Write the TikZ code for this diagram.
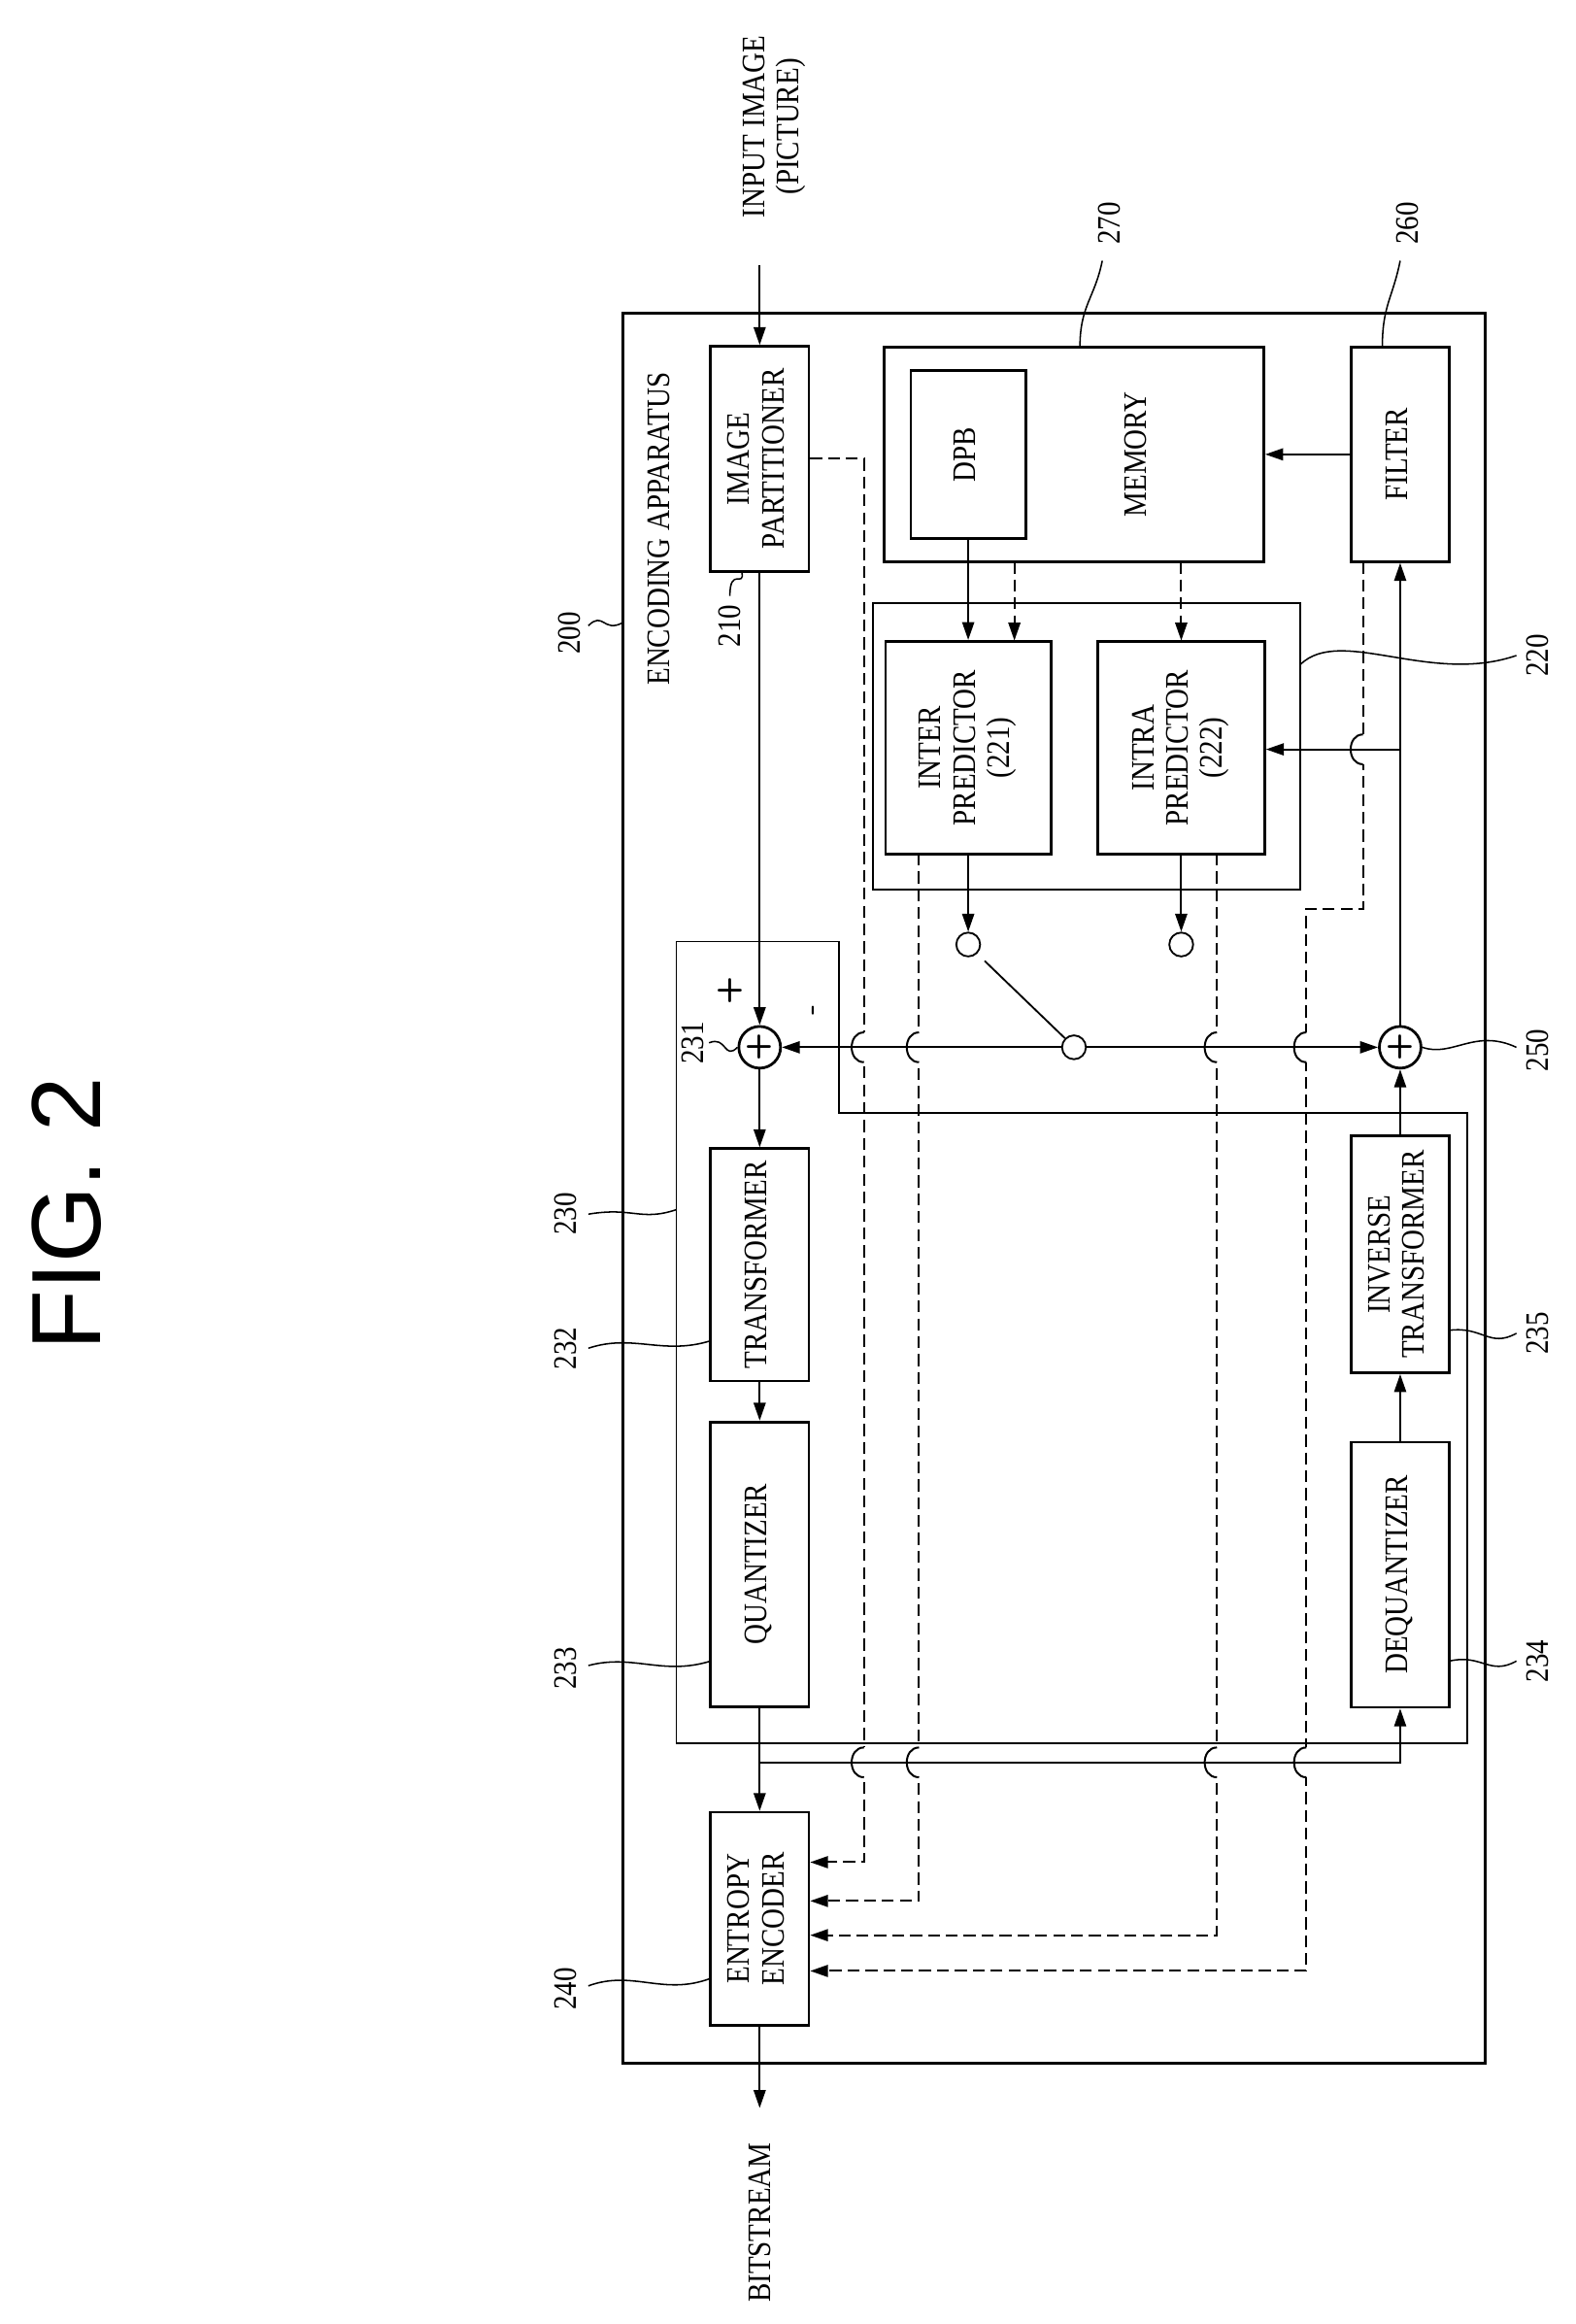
\documentclass[tikz,border=0pt]{standalone}
\usepackage{fontspec}
\setmainfont{Liberation Serif}[FakeStretch=0.86]
\usetikzlibrary{arrows.meta}
\tikzset{
  blk/.style = {draw, line width=1.8pt, inner sep=0pt, font=\fontsize{22}{23}\selectfont},
  grp/.style = {draw, line width=1.2pt},
  sig/.style = {line width=1.3pt, -{Triangle[length=12pt,width=8pt]}},
  dsh/.style = {line width=1.3pt, dash pattern=on 8pt off 4pt},
  dshar/.style = {dsh, -{Triangle[length=12pt,width=8pt]}},
  sum/.style = {draw, circle, line width=1.8pt, minimum size=28pt, inner sep=0pt, font=\fontsize{22}{22}\bfseries\sffamily},
  tap/.style = {draw, circle, line width=1.2pt, minimum size=16pt, inner sep=0pt},
  refno/.style = {font=\fontsize{22}{23}\selectfont, rotate=90},
  squig/.style = {line width=1pt}
}
\newcommand{\vtext}[1]{\rotatebox{90}{\begin{tabular}{@{}c@{}}#1\end{tabular}}}
% hop of a dashed line over a solid one
\newcommand{\hop}[2]{%
  \fill[white] (#1-3,#2-10) rectangle (#1+3,#2+10);
  \draw[line width=1.3pt] (#1,#2-10) .. controls (#1-11,#2-10) and (#1-11,#2+10) .. (#1,#2+10);}

\begin{document}
\begin{tikzpicture}[x=1pt,y=-1pt]
\useasboundingbox (0,0) rectangle (1058,1560);

\node[rotate=90] (fig) at (45,815) {\fontsize{66}{66}\fontspec{Liberation Sans}FIG. 2};

% outer apparatus
\draw[line width=1.8pt] (418,210) rectangle (997,1385);
\node[font=\fontsize{22}{23}\selectfont, rotate=90] (encap) at (442,355) {ENCODING APPARATUS};

% groups
\draw[grp] (586,405) rectangle (873,597);
\draw[grp] (454,632) -- (563,632) -- (563,747) -- (985,747) -- (985,1170) -- (454,1170) -- cycle;

% blocks
\node[blk, minimum width=66pt, minimum height=151pt] (ip) at (510,308) {\vtext{IMAGE\\PARTITIONER}};
\node[blk, minimum width=255pt, minimum height=144pt] (mem) at (721,305) {};
\node[blk, minimum width=77pt, minimum height=113pt] (dpb) at (650,305) {\vtext{DPB}};
\node[font=\fontsize{22}{23}\selectfont] (memt) at (765,305) {\vtext{MEMORY}};
\node[blk, minimum width=66pt, minimum height=144pt] (filt) at (940,305) {\vtext{FILTER}};
\node[blk, minimum width=111pt, minimum height=143pt] (inter) at (650,502) {\vtext{INTER\\PREDICTOR\\(221)}};
\node[blk, minimum width=112pt, minimum height=143pt] (intra) at (793,502) {\vtext{INTRA\\PREDICTOR\\(222)}};
\node[blk, minimum width=66pt, minimum height=156pt] (tr) at (510,849) {\vtext{TRANSFORMER}};
\node[blk, minimum width=66pt, minimum height=191pt] (qu) at (510,1050) {\vtext{QUANTIZER}};
\node[blk, minimum width=66pt, minimum height=143pt] (ent) at (510,1288) {\vtext{ENTROPY\\ENCODER}};
\node[blk, minimum width=66pt, minimum height=178pt] (dq) at (940,1057) {\vtext{DEQUANTIZER}};
\node[blk, minimum width=66pt, minimum height=159pt] (itr) at (940,842) {\vtext{INVERSE\\TRANSFORMER}};

\node[sum] (add1) at (510,703) {+};
\node[sum] (add2) at (940,703) {+};
\node[tap] (tint) at (650,634) {};
\node[tap] (tintra) at (793,634) {};
\node[tap] (piv) at (721,703) {};
\node[font=\fontsize{22}{22}\bfseries\sffamily] (plus) at (490,665) {+};
\node[font=\fontsize{20}{20}\bfseries\sffamily, rotate=90] (minus) at (548,678) {-};

% external
\coordinate (in) at (510,178);
\coordinate (out) at (510,1415);
\node[font=\fontsize{22}{23}\selectfont] (intext) at (520,85) {\vtext{INPUT IMAGE\\(PICTURE)}};
\node[refno] (bits) at (510,1492) {BITSTREAM};
\draw[sig] (in) -- (ip.north);
\draw[sig] (ent.south) -- (out);

% dashed side information
\draw[dshar] (ip.east |- 0,308) -| (580,1250) -- (ent.east |- 0,1250);
\draw[dshar] (617,573) -- (617,1276) -- (ent.east |- 0,1276);
\draw[dshar] (817,573) -- (817,1299) -- (ent.east |- 0,1299);
\draw[dshar] (915,377) -- (915,610) -- (877,610) -- (877,1323) -- (ent.east |- 0,1323);
\draw[dshar] (681,377) -- (681,430);
\draw[dshar] (793,377) -- (793,430);

% hops
\foreach \xx in {580,617,817,877} {\hop{\xx}{703} \hop{\xx}{1183}}
\hop{915}{503}

% solid paths
\draw[sig] (dpb.south) -- (inter.north -| dpb.south);
\draw[sig] (filt.west) -- (mem.east);
\draw[sig] (ip.south) -- (add1.north);
\draw[sig] (add1.south) -- (tr.north);
\draw[sig] (tr.south) -- (qu.north);
\draw[sig] (qu.south) -- (ent.north);
\draw[sig] (510,1183) -- (940,1183) -- (dq.south);
\draw[sig] (dq.north) -- (itr.south);
\draw[sig] (itr.north) -- (add2.south);
\draw[sig] (add2.north) -- (filt.south);
\draw[sig] (940,503) -- (intra.east |- 0,503);
\draw[sig] (inter.south) -- (tint.north);
\draw[sig] (intra.south) -- (tintra.north);
\draw[sig] (piv.west) -- (add1.east);
\draw[sig] (piv.east) -- (add2.west);
\draw[line width=1.2pt] (piv.north west) -- (661,645);

% reference numerals
\node[refno] (r200) at (382,425) {200};
\draw[squig] (395,420) .. controls (405,410) and (405,425) .. (418,418);
\node[refno] (r210) at (490,420) {210};
\draw[squig] (490,400) .. controls (490,380) and (500,395) .. (498,384);
\node[refno] (r270) at (745,150) {270};
\draw[squig] (740,175) .. controls (735,200) and (725,205) .. (725,233);
\node[refno] (r260) at (945,150) {260};
\draw[squig] (940,175) .. controls (935,200) and (928,205) .. (928,233);
\node[refno] (r220) at (1032,440) {220};
\draw[squig] (873,446) .. controls (900,420) and (960,460) .. (1018,440);
\node[refno] (r231) at (465,700) {231};
\draw[squig] (476,700) .. controls (488,695) and (486,712) .. (add1.west);
\node[refno] (r230) at (380,815) {230};
\draw[squig] (395,815) .. controls (425,810) and (430,820) .. (454,812);
\node[refno] (r232) at (380,905) {232};
\draw[squig] (395,905) .. controls (425,895) and (445,910) .. (477,900);
\node[refno] (r233) at (380,1120) {233};
\draw[squig] (395,1118) .. controls (425,1110) and (445,1125) .. (477,1115);
\node[refno] (r240) at (380,1335) {240};
\draw[squig] (395,1333) .. controls (425,1322) and (445,1340) .. (477,1328);
\node[refno] (r250) at (1032,705) {250};
\draw[squig] (add2.east) .. controls (975,710) and (990,690) .. (1018,703);
\node[refno] (r235) at (1032,895) {235};
\draw[squig] (973,893) .. controls (995,890) and (1000,905) .. (1018,895);
\node[refno] (r234) at (1032,1115) {234};
\draw[squig] (973,1115) .. controls (995,1110) and (1000,1125) .. (1018,1115);
\end{tikzpicture}
\end{document}
